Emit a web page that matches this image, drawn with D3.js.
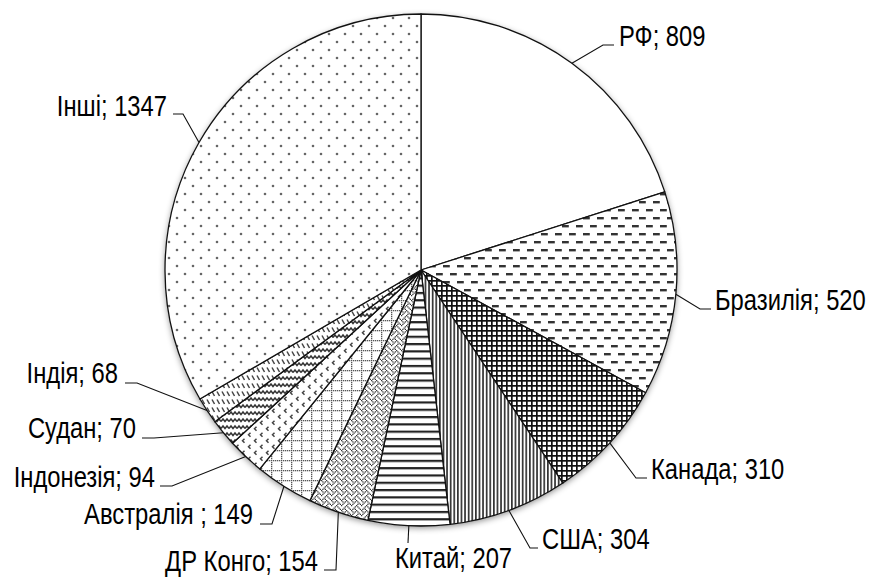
<!DOCTYPE html>
<html><head><meta charset="utf-8">
<script src="https://cdn.jsdelivr.net/npm/d3@7"></script>
<style>body{margin:0;background:#fff} svg{display:block}</style>
</head><body>
<svg id="chart" width="871" height="578"></svg>
<script>
// ---- data ----
const categories = ["РФ", "Бразилія", "Канада", "США", "Китай", "ДР Конго", "Австралія ", "Індонезія", "Судан", "Індія", "Інші"];
const values = [809, 520, 310, 304, 207, 154, 149, 94, 70, 68, 1347];

// ---- layout ----
const W = 871, H = 578, cx = 421, cy = 270, R = 256;
const FONT = "'Liberation Sans',Arial,sans-serif";
const NARROW = 0.82;
// label placement: text x/baseline, anchor, leader points after the arc point
const labelLayout = [
  {x: 619, y: 46,  a: "start", pts: [[603, 45], [614, 45]]},
  {x: 715, y: 310, a: "start", pts: [[700, 309], [711, 309]]},
  {x: 651, y: 479, a: "start", pts: [[636, 478], [647, 478]]},
  {x: 542, y: 549, a: "start", pts: [[530, 548], [538, 548]]},
  {x: 395, y: 568, a: "start", pts: [[408, 543]]},
  {x: 318, y: 571, a: "end",   pts: [[336, 570], [324, 570]]},
  {x: 253, y: 524, a: "end",   pts: [[272, 524], [260, 524]]},
  {x: 155, y: 487, a: "end",   pts: [[172, 486], [160, 486]]},
  {x: 136, y: 438, a: "end",   pts: [[154, 438], [142, 438]]},
  {x: 118, y: 383, a: "end",   pts: [[137, 383], [125, 383]]},
  {x: 167, y: 116, a: "end",   pts: [[183, 114], [173, 114]]}
];

const svg = d3.select("#chart");
svg.append("rect").attr("width", W).attr("height", H).attr("fill", "#fff");
const defs = svg.append("defs");

// shadow
const f = defs.append("filter").attr("id", "shadow").attr("x", "-10%").attr("y", "-10%").attr("width", "120%").attr("height", "120%");
f.append("feDropShadow").attr("dx", 0).attr("dy", 2).attr("stdDeviation", 3).attr("flood-color", "#000").attr("flood-opacity", 0.45);

function pat(id, w, h, draw) {
  const p = defs.append("pattern").attr("id", id).attr("patternUnits", "userSpaceOnUse")
    .attr("width", w).attr("height", h);
  p.append("rect").attr("width", w).attr("height", h).attr("fill", "#fff");
  draw(p);
  return "url(#" + id + ")";
}
const fills = [];
// РФ: plain
fills.push("#fff");
// Бразилія: dashes
fills.push(pat("p1", 14, 16, p => {
  p.append("rect").attr("x", 1).attr("y", 3).attr("width", 6.8).attr("height", 2.4).attr("fill", "#333");
  p.append("rect").attr("x", 8).attr("y", 11).attr("width", 6.8).attr("height", 2.4).attr("fill", "#333");
  p.append("rect").attr("x", -6).attr("y", 11).attr("width", 6.8).attr("height", 2.4).attr("fill", "#333");
}));
// Канада: small grid
fills.push(pat("p2", 5, 5, p => {
  p.append("rect").attr("x", 0).attr("y", 0).attr("width", 5).attr("height", 1.7).attr("fill", "#111");
  p.append("rect").attr("x", 0).attr("y", 0).attr("width", 1.7).attr("height", 5).attr("fill", "#111");
}));
// США: vertical lines
fills.push(pat("p3", 3.6, 4, p => {
  p.append("rect").attr("x", 0).attr("y", 0).attr("width", 1.7).attr("height", 4).attr("fill", "#333");
}));
// Китай: horizontal lines
fills.push(pat("p4", 8, 7.3, p => {
  p.append("rect").attr("x", 0).attr("y", 0).attr("width", 8).attr("height", 2.2).attr("fill", "#222");
}));
// ДР Конго: weave bitmap
fills.push(pat("p5", 10, 10, p => {
  const bits = [0x88, 0x54, 0x22, 0x45, 0x88, 0x14, 0x22, 0x51];
  const s = 10 / 8;
  bits.forEach((b, r) => { for (let c = 0; c < 8; c++) if (b & (0x80 >> c))
    p.append("rect").attr("x", c * s).attr("y", r * s).attr("width", s).attr("height", s).attr("fill", "#333"); });
}));
// Австралія: dotted grid
fills.push(pat("p6", 10, 10, p => {
  for (let i = 0; i < 10; i += 2) {
    p.append("rect").attr("x", i).attr("y", 0).attr("width", 1.3).attr("height", 1.3).attr("fill", "#555");
    if (i > 0) p.append("rect").attr("x", 0).attr("y", i).attr("width", 1.3).attr("height", 1.3).attr("fill", "#555");
  }
}));
// Індонезія: divots
fills.push(pat("p7", 12, 12, p => {
  p.append("path").attr("d", "M3.5,0.8 L1.5,2.8 L3.5,4.8").attr("fill", "none").attr("stroke", "#444").attr("stroke-width", 1.5);
  p.append("path").attr("d", "M9.5,6.8 L7.5,8.8 L9.5,10.8").attr("fill", "none").attr("stroke", "#444").attr("stroke-width", 1.5);
}));
// Судан: wave
fills.push(pat("p8", 8, 7, p => {
  p.append("path").attr("d", "M0,4.5 L2,2 L4,4.5 L6,2 L8,4.5").attr("fill", "none").attr("stroke", "#333").attr("stroke-width", 1.5);
}));
// Індія: diagonal dashes
fills.push(pat("p9", 5, 8, p => {
  p.append("path").attr("d", "M1,1.5 L3.5,6").attr("fill", "none").attr("stroke", "#444").attr("stroke-width", 1.5);
}));
// Інші: sparse dots
fills.push(pat("p10", 16, 16, p => {
  p.append("circle").attr("cx", 4).attr("cy", 4).attr("r", 1.3).attr("fill", "#666");
  p.append("circle").attr("cx", 12).attr("cy", 12).attr("r", 1.3).attr("fill", "#666");
}));

const pie = d3.pie().sort(null).value(d => d)(values);
const arc = d3.arc().innerRadius(0).outerRadius(R);
const edge = d3.arc().innerRadius(R).outerRadius(R);

const g = svg.append("g").attr("transform", `translate(${cx},${cy})`);
g.append("circle").attr("r", R).attr("fill", "#fff").attr("filter", "url(#shadow)");
g.selectAll("path.slice").data(pie).join("path").attr("class", "slice")
  .attr("d", arc).attr("fill", (d, i) => fills[i])
  .attr("stroke", "#111").attr("stroke-width", 1.3).attr("stroke-linejoin", "round");

// leaders and labels
const lab = svg.append("g");
pie.forEach((d, i) => {
  const L = labelLayout[i];
  const c = edge.centroid(d);
  const pts = [[c[0] + cx, c[1] + cy], ...L.pts];
  lab.append("path").attr("d", d3.line()(pts)).attr("fill", "none").attr("stroke", "#111").attr("stroke-width", 1.1);
  lab.append("text").attr("transform", `translate(${L.x},${L.y}) scale(${NARROW},1)`)
    .attr("text-anchor", L.a)
    .attr("font-family", FONT).attr("font-size", 29).attr("fill", "#000")
    .text(categories[i] + "; " + values[i]);
});
</script>
</body></html>
